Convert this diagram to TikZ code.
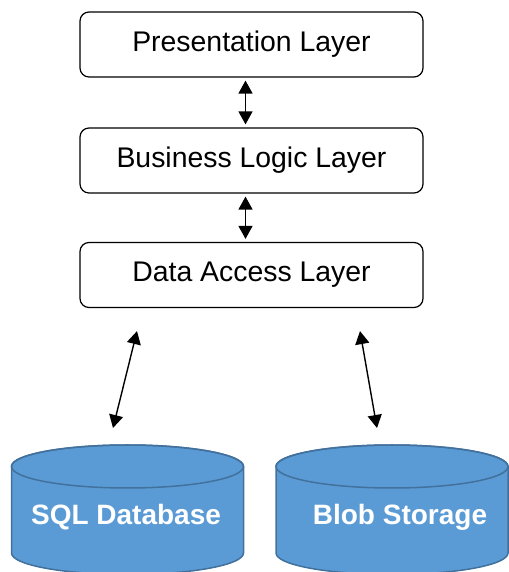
\documentclass[tikz,border=0pt]{standalone}
\usepackage{fontspec}
\setmainfont{Liberation Sans}
\usetikzlibrary{positioning,arrows.meta}
\definecolor{dbblue}{HTML}{5B9BD5}
\definecolor{dbedge}{HTML}{41719C}

\begin{document}
\begin{tikzpicture}[x=1pt,y=1pt,node distance=115pt,on grid,
    layer/.style={draw,rounded corners=9pt,line width=1.2pt,
      minimum width=343pt,minimum height=65pt,
      font=\fontsize{28.4}{34}\selectfont},
    link/.style={{Triangle[width=14pt,length=13pt]}-{Triangle[width=14pt,length=13pt]},
      line width=1.4pt},
    dbtext/.style={text=white,font=\fontsize{28}{34}\selectfont\bfseries}]
   \useasboundingbox (0,0) rectangle (508,572);
   \node[layer] (pres) at (251.5,527.5) {Presentation Layer};
   \node[layer] (logic) [below=116pt of pres] {Business Logic Layer};
   \node[layer] (data) [below=114.5pt of logic] {Data Access Layer};
   % storage cylinders
   \foreach \cx in {127.5,392}{
     \path[fill=dbblue,draw=dbedge,line width=1.5pt]
       (\cx-116,105.5) -- (\cx-116,19)
       arc[start angle=180,end angle=360,x radius=116,y radius=21.5]
       -- (\cx+116,105.5)
       arc[start angle=0,end angle=180,x radius=116,y radius=21.5] -- cycle;
     \draw[dbedge,line width=1.5pt] (\cx,105.5) ellipse[x radius=116,y radius=21.5];
   }
   \node[dbtext] (sqldb) at (126,55) {SQL Database};
   \node[dbtext] (blob) at (400,55) {Blob Storage};
   \coordinate (sqltop) at (127.5,127);
   \coordinate (blobtop) at (392,127);
   \draw[link] ([xshift=-6pt,yshift=-3pt]pres.south) -- ([xshift=-6pt,yshift=3pt]logic.north);
   \draw[link] ([xshift=-6pt,yshift=-3pt]logic.south) -- ([xshift=-6pt,yshift=3pt]data.north);
   \draw[link] ([xshift=-114.5pt,yshift=-23pt]data.south) -- ([xshift=-14.5pt,yshift=17pt]sqltop);
   \draw[link] ([xshift=108.5pt,yshift=-23pt]data.south) -- ([xshift=-15pt,yshift=17pt]blobtop);
\end{tikzpicture}
\end{document}
